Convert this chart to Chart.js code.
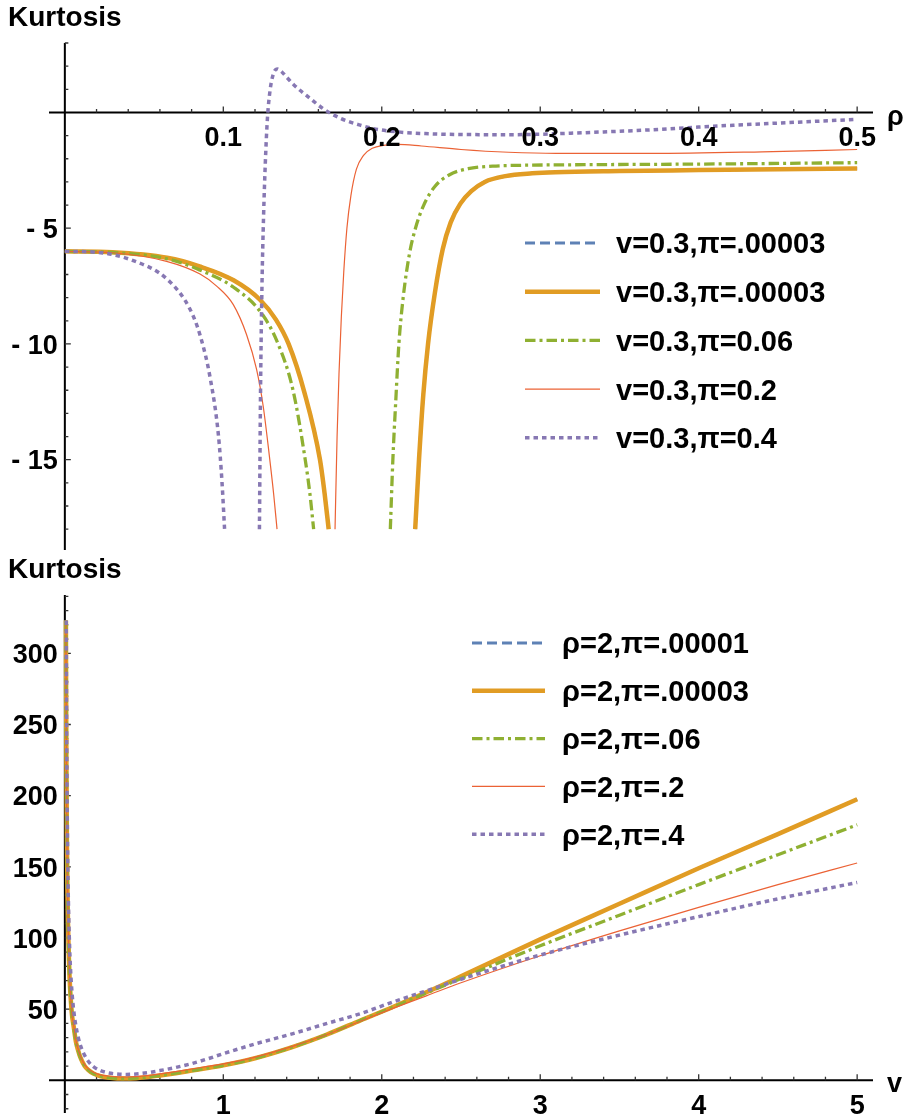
<!DOCTYPE html>
<html>
<head>
<meta charset="utf-8">
<title>Kurtosis</title>
<script src="https://cdn.jsdelivr.net/npm/chart.js@4.4.0/dist/chart.umd.min.js"></script>
<style>
  html, body { margin: 0; padding: 0; background: #fff; }
  #page { position: relative; width: 910px; height: 1119px; overflow: hidden; }
  .panel { position: absolute; left: 0; width: 910px; }
  #panelRho { top: 0; height: 555px; }
  #panelV { top: 555px; height: 564px; }
</style>
</head>
<body>
<div id="page">
  <div class="panel" id="panelRho"><canvas id="chartRho"></canvas></div>
  <div class="panel" id="panelV"><canvas id="chartV"></canvas></div>
</div>
<script>
// ---- top panel: kurtosis against rho (v = 0.3), null = curve leaves the plot range
const rhoOrange = [0, 0.03, 0.0645, 0.085, 0.1065, 0.1233, 0.1332, 0.1412, 0.1512, 0.161, 0.164, 0.1665,
  0.19, 0.2211, 0.2235, 0.2262, 0.2292, 0.2335, 0.2385, 0.2435, 0.2495, 0.2565, 0.265, 0.278, 0.295, 0.3095, 0.35, 0.4, 0.45, 0.5];
const kurtOrange = [-6, -6.04, -6.28, -6.65, -7.25, -8.1, -8.95, -10, -12.1, -15, -16.5, -18,
  null, -18, -15, -12.2, -10, -7.8, -5.9, -4.75, -3.95, -3.4, -3.0, -2.75, -2.63, -2.58, -2.53, -2.49, -2.45, -2.42];

const rhoGreen = [0, 0.03, 0.0645, 0.085, 0.1065, 0.1244, 0.1346, 0.144, 0.1517, 0.1547, 0.157,
  0.18, 0.2054, 0.207, 0.2088, 0.2108, 0.2135, 0.2175, 0.2215, 0.2265, 0.2335, 0.2425, 0.2545, 0.27, 0.29, 0.32, 0.4, 0.5];
const kurtGreen = [-6, -6.05, -6.32, -6.8, -7.55, -8.7, -10, -12, -15, -16.5, -18,
  null, -18, -15, -12.5, -10, -8.0, -6.1, -4.95, -4.0, -3.2, -2.7, -2.43, -2.32, -2.28, -2.26, -2.23, -2.17];

const rhoRed = [0, 0.03, 0.0642, 0.0853, 0.0958, 0.1063, 0.1147, 0.121, 0.1252, 0.129, 0.1318, 0.1339,
  0.15, 0.1705, 0.1718, 0.173, 0.1745, 0.176, 0.178, 0.1805, 0.184, 0.1885, 0.194, 0.2011, 0.21, 0.225, 0.25, 0.28, 0.31, 0.37, 0.44, 0.5];
const kurtRed = [-6, -6.06, -6.43, -6.98, -7.5, -8.3, -9.6, -11.1, -12.7, -14.8, -16.5, -18,
  null, -18, -14, -11.3, -8.8, -6.9, -5.0, -3.6, -2.45, -1.85, -1.55, -1.42, -1.38, -1.45, -1.6, -1.72, -1.77, -1.77, -1.7, -1.6];

const rhoPurple = [0, 0.02, 0.0432, 0.0645, 0.079, 0.0855, 0.0918, 0.097, 0.0992, 0.1008,
  0.11, 0.1228, 0.1235, 0.1244, 0.1254, 0.1265, 0.1278, 0.1295, 0.1315, 0.1339, 0.1365, 0.14, 0.1444, 0.1549, 0.1633,
  0.1738, 0.1864, 0.1948, 0.2117, 0.23, 0.2464, 0.28, 0.3, 0.34, 0.37, 0.4, 0.45, 0.5];
const kurtPurple = [-6, -6.04, -6.4, -7.2, -8.5, -9.66, -11.5, -14.0, -16.0, -18,
  null, -18, -12, -7.5, -4.5, -2.2, -0.3, 0.95, 1.65, 1.88, 1.78, 1.52, 1.2, 0.6, 0.15,
  -0.25, -0.55, -0.7, -0.85, -0.92, -0.95, -0.96, -0.94, -0.84, -0.75, -0.63, -0.46, -0.3];

const labelsRho = ["v=0.3,π=.00003", "v=0.3,π=.00003", "v=0.3,π=0.06", "v=0.3,π=0.2", "v=0.3,π=0.4"];
const rhoTicks = [0.1, 0.2, 0.3, 0.4, 0.5];
const rhoTickLabels = ["0.1", "0.2", "0.3", "0.4", "0.5"];
const kurtRhoTicks = [-15, -10, -5];
const kurtRhoTickLabels = ["- 15", "- 10", "- 5"];

// ---- bottom panel: kurtosis against v (rho = 2)
const vBundle = [0.0068, 0.008, 0.01, 0.013, 0.016, 0.02, 0.025, 0.03, 0.035, 0.045, 0.056, 0.07, 0.085, 0.1, 0.125, 0.15,
  0.18, 0.22, 0.27, 0.33, 0.39, 0.45, 0.52, 0.6, 0.7, 0.8, 0.9, 1.0, 1.2, 1.44, 1.65, 1.865, 2.07, 2.285, 2.5, 3, 3.5, 4, 4.5, 5];
const kurtVOrange = [323, 275, 220, 168, 137, 110, 88, 72, 61, 46, 37.5, 27, 20.5, 15.5, 10, 7,
  4.7, 3, 1.9, 1.3, 1.2, 1.5, 2.2, 3.4, 5, 6.8, 8.6, 10.5, 15.5, 23.5, 32, 42, 51.5, 62, 73, 99, 124, 149, 173, 197.5];
const kurtVGreen = [323, 275, 220, 168, 137, 110, 88, 72, 61, 46, 37.5, 27, 20.5, 15.5, 10, 7,
  4.7, 3, 1.9, 1.3, 1.2, 1.5, 2.2, 3.4, 5, 6.8, 8.6, 10.5, 15.5, 23.5, 32, 42, 51.3, 61.5, 71.5, 94.5, 116, 137.5, 158.5, 179.5];
const kurtVRed = [323, 276, 221, 169, 138, 111, 89, 73, 62, 47, 38.5, 28, 21.5, 16.5, 11, 8,
  5.7, 4, 3, 2.4, 2.3, 2.6, 3.3, 4.5, 6.1, 7.9, 9.7, 11.5, 16.3, 24, 32, 41.5, 50.5, 59.5, 68.5, 87.5, 105, 121.5, 137.5, 152.7];

const vPurple = [0.0087, 0.01, 0.013, 0.016, 0.02, 0.025, 0.03, 0.035, 0.045, 0.056, 0.07, 0.085, 0.1, 0.125, 0.15,
  0.18, 0.22, 0.27, 0.33, 0.39, 0.45, 0.52, 0.6, 0.7, 0.8, 0.9, 1.0, 1.2, 1.44, 1.65, 1.865, 2.07, 2.285, 2.5, 3, 3.5, 4, 4.5, 5];
const kurtVPurple = [323, 282, 217, 177, 141, 113, 94, 80, 62, 49, 38, 30, 24, 17.5, 13,
  9.6, 7, 5.3, 4.4, 4.1, 4.4, 5.3, 6.8, 9, 11.7, 15, 18.7, 25.5, 32.8, 39.8, 46.8, 55, 63, 71, 88, 102, 115, 127.5, 139];

const labelsV = ["ρ=2,π=.00001", "ρ=2,π=.00003", "ρ=2,π=.06", "ρ=2,π=.2", "ρ=2,π=.4"];
const vTicks = [1, 2, 3, 4, 5];
const vTickLabels = ["1", "2", "3", "4", "5"];
const kurtVTicks = [50, 100, 150, 200, 250, 300];
const kurtVTickLabels = ["50", "100", "150", "200", "250", "300"];

// Mathematica default plot colours
const colors = ["#5e81b5", "#e19c24", "#8fb032", "#eb6235", "#8778b3"];
const widths = [3, 4.5, 3.3, 1.2, 3.5];
const dashes = [[10, 5], [], [10.5, 4, 3, 4], [], [4.5, 4]];

const FONT = '"Liberation Sans", Arial, sans-serif';

function toPoints(xs, ys) {
  return xs.map((x, i) => ({ x: x, y: ys[i] }));
}

function makeDatasets(labels, pointSets) {
  return pointSets.map((pts, i) => ({
    label: labels[i],
    data: pts,
    borderColor: colors[i],
    backgroundColor: colors[i],
    borderWidth: widths[i],
    borderDash: dashes[i],
    borderCapStyle: "butt",
    pointRadius: 0,
    fill: false,
    cubicInterpolationMode: "monotone",
    spanGaps: false,
    order: 5 - i // first curve underneath, like Mathematica
  }));
}

// axes through the origin with inward ticks
const mathAxes = {
  id: "mathAxes",
  beforeDatasetsDraw(chart, args, o) {
    const { ctx, chartArea: a, scales: { x, y } } = chart;
    const x0 = x.getPixelForValue(0);
    const y0 = y.getPixelForValue(0);
    ctx.save();
    ctx.strokeStyle = "#000";
    ctx.lineWidth = 2;
    ctx.beginPath();
    ctx.moveTo(a.left, y0); ctx.lineTo(a.right, y0);
    ctx.moveTo(x0, a.top); ctx.lineTo(x0, a.bottom);
    ctx.stroke();

    ctx.lineWidth = 1.3;
    ctx.strokeStyle = "#333";
    ctx.beginPath();
    for (let k = 1; k * o.xStep <= x.max + 1e-9; k++) {
      const v = k * o.xStep;
      const major = o.xMajor.some(m => Math.abs(m - v) < 1e-9);
      const px = x.getPixelForValue(v);
      ctx.moveTo(px, y0); ctx.lineTo(px, y0 - (major ? 6 : 3.5));
    }
    for (let k = Math.ceil(y.min / o.yStep); k * o.yStep <= y.max + 1e-9; k++) {
      if (k === 0) continue;
      const v = k * o.yStep;
      const major = o.yMajor.some(m => Math.abs(m - v) < 1e-9);
      const py = y.getPixelForValue(v);
      ctx.moveTo(x0, py); ctx.lineTo(x0 + (major ? 6 : 3.5), py);
    }
    ctx.stroke();
    ctx.restore();
  },
  afterDraw(chart, args, o) {
    const { ctx, scales: { x, y } } = chart;
    const x0 = x.getPixelForValue(0);
    const y0 = y.getPixelForValue(0);
    ctx.save();
    ctx.fillStyle = "#000";
    ctx.font = "bold 27px " + FONT;
    ctx.textBaseline = "alphabetic";

    ctx.textAlign = "center";
    o.xMajor.forEach((v, i) => {
      ctx.fillText(o.xLabels[i], x.getPixelForValue(v), y0 + 34);
    });
    ctx.textAlign = "right";
    o.yMajor.forEach((v, i) => {
      ctx.fillText(o.yLabels[i], x0 - 7, y.getPixelForValue(v) + 9.7);
    });

    ctx.textAlign = "left";
    ctx.fillText(o.xTitle, o.xTitlePos[0], o.xTitlePos[1]);
    ctx.font = "bold 28px " + FONT;
    ctx.fillText(o.title, 8, o.titleBaseline);
    ctx.restore();
  }
};

// legend drawn inside the plot area
const mathLegend = {
  id: "mathLegend",
  afterDraw(chart, args, o) {
    const ctx = chart.ctx;
    ctx.save();
    ctx.font = "bold 29px " + FONT;
    ctx.fillStyle = "#000";
    ctx.textAlign = "left";
    ctx.textBaseline = "alphabetic";
    chart.data.datasets.forEach((ds, i) => {
      const cy = o.top + i * o.step;
      ctx.strokeStyle = ds.borderColor;
      ctx.lineWidth = ds.borderWidth;
      ctx.setLineDash(ds.borderDash);
      ctx.lineCap = "butt";
      ctx.beginPath();
      ctx.moveTo(o.left, cy);
      ctx.lineTo(o.left + o.sample, cy);
      ctx.stroke();
      ctx.setLineDash([]);
      ctx.fillText(ds.label, o.left + o.sample + o.gap, cy + 10.4);
    });
    ctx.restore();
  }
};

function baseOptions(xMin, xMax, yMin, yMax, pad, axesOpts, legendOpts) {
  return {
    responsive: true,
    maintainAspectRatio: false,
    animation: false,
    events: [],
    layout: { padding: pad },
    scales: {
      x: { type: "linear", min: xMin, max: xMax, display: false },
      y: { type: "linear", min: yMin, max: yMax, display: false }
    },
    plugins: {
      legend: { display: false },
      tooltip: { enabled: false },
      mathAxes: axesOpts,
      mathLegend: legendOpts
    }
  };
}

new Chart(document.getElementById("chartRho"), {
  type: "line",
  data: {
    datasets: makeDatasets(labelsRho, [
      toPoints(rhoOrange, kurtOrange),
      toPoints(rhoOrange, kurtOrange),
      toPoints(rhoGreen, kurtGreen),
      toPoints(rhoRed, kurtRed),
      toPoints(rhoPurple, kurtPurple)
    ])
  },
  options: baseOptions(-0.01, 0.51, -18.9, 3.0,
    { top: 43, left: 49, right: 37, bottom: 5 },
    { xStep: 0.02, xMajor: rhoTicks, xLabels: rhoTickLabels, yStep: 1, yMajor: kurtRhoTicks, yLabels: kurtRhoTickLabels,
      xTitle: "ρ", xTitlePos: [887, 125], title: "Kurtosis", titleBaseline: 26 },
    { left: 525, top: 243, step: 48.7, sample: 75, gap: 16 }),
  plugins: [mathAxes, mathLegend]
});

new Chart(document.getElementById("chartV"), {
  type: "line",
  data: {
    datasets: makeDatasets(labelsV, [
      toPoints(vBundle, kurtVOrange),
      toPoints(vBundle, kurtVOrange),
      toPoints(vBundle, kurtVGreen),
      toPoints(vBundle, kurtVRed),
      toPoints(vPurple, kurtVPurple)
    ])
  },
  options: baseOptions(-0.1, 5.1, -23, 341,
    { top: 40, left: 49, right: 37, bottom: 6 },
    { xStep: 0.2, xMajor: vTicks, xLabels: vTickLabels, yStep: 10, yMajor: kurtVTicks, yLabels: kurtVTickLabels,
      xTitle: "v", xTitlePos: [887, 537], title: "Kurtosis", titleBaseline: 23 },
    { left: 472, top: 88, step: 47.8, sample: 73, gap: 17 }),
  plugins: [mathAxes, mathLegend]
});
</script>
</body>
</html>
